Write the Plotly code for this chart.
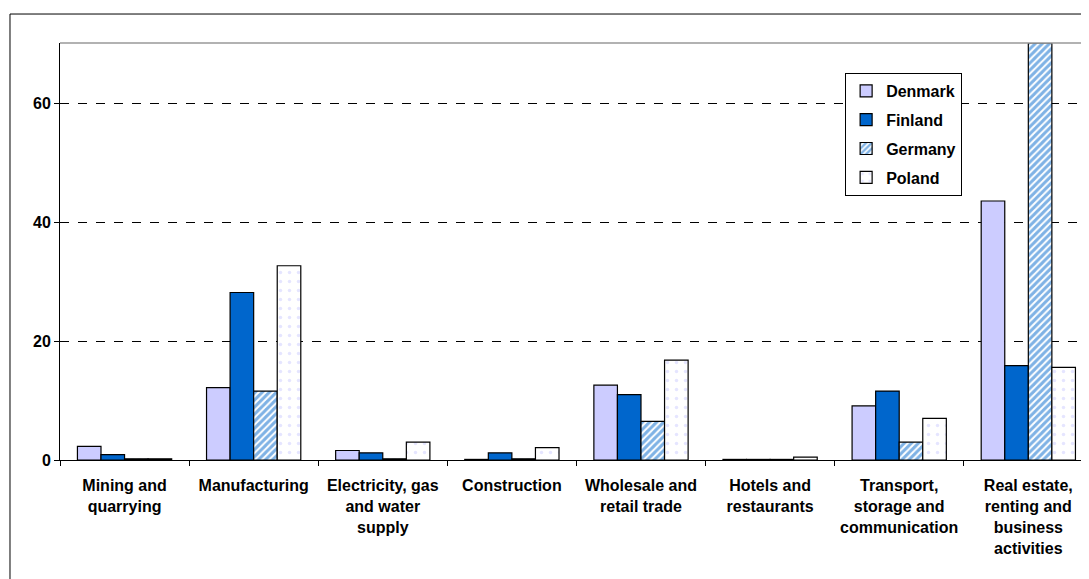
import plotly.graph_objects as go

sectors = [
    "Mining and<br>quarrying",
    "Manufacturing",
    "Electricity, gas<br>and water<br>supply",
    "Construction",
    "Wholesale and<br>retail trade",
    "Hotels and<br>restaurants",
    "Transport,<br>storage and<br>communication",
    "Real estate,<br>renting and<br>business<br>activities",
]

denmark = [2.3, 12.2, 1.6, 0.1, 12.6, 0.1, 9.1, 43.6]
finland = [0.9, 28.2, 1.2, 1.2, 11.0, 0.1, 11.6, 15.9]
germany = [0.2, 11.6, 0.2, 0.2, 6.5, 0.1, 3.0, 70.2]
poland = [0.2, 32.7, 3.0, 2.1, 16.8, 0.5, 7.0, 15.6]

FONT = "Arial, Liberation Sans, sans-serif"
line = dict(color="black", width=1.2)

fig = go.Figure()
fig.add_bar(name="Denmark", x=sectors, y=denmark, legendgroup="dk",
            marker=dict(color="#CCCCFF", line=line))
fig.add_bar(name="Finland", x=sectors, y=finland, legendgroup="fi",
            marker=dict(color="#0066CC", line=line))
fig.add_bar(name="Germany", x=sectors, y=germany, legendgroup="de",
            marker=dict(color="white", line=line,
                        pattern=dict(shape="/", fgcolor="#0066CC", bgcolor="white",
                                     size=5, solidity=0.6)))
fig.add_bar(name="Poland", x=sectors, y=poland, legendgroup="pl",
            marker=dict(color="white", line=line,
                        pattern=dict(shape=".", fgcolor="#CCCCFF", bgcolor="white",
                                     size=9, solidity=0.12)))

# page body has an 8px margin, so the figure is shrunk by that much
fig.update_layout(
    width=1081, height=571,
    margin=dict(l=52, r=0, t=35, b=119, autoexpand=False),
    paper_bgcolor="white",
    plot_bgcolor="white",
    barmode="group",
    bargap=0.27,
    bargroupgap=0,
    font=dict(family=FONT, size=16, color="black", weight="bold"),
    legend=dict(
        x=0.763, y=0.928, xanchor="left", yanchor="top",
        bgcolor="white", bordercolor="black", borderwidth=1,
        font=dict(family=FONT, size=16, color="black", weight="bold"),
        tracegroupgap=5,
        itemwidth=30,
    ),
    shapes=[
        dict(type="line", xref="paper", yref="paper", x0=-0.0486, x1=1.01,
             y0=1.0695, y1=1.0695, line=dict(color="black", width=1)),
        dict(type="line", xref="paper", yref="paper", x0=-0.0486, x1=-0.0486,
             y0=1.0695, y1=-0.3, line=dict(color="black", width=1)),
        dict(type="line", xref="paper", yref="paper", x0=0, x1=1,
             y0=1, y1=1, line=dict(color="#999999", width=1.5)),
    ],
)

fig.update_xaxes(
    type="category",
    range=[-0.5, 7.47],
    tickson="boundaries",
    tickangle=0,
    ticks="outside", ticklen=5, tickcolor="black",
    ticklabelstandoff=11,
    showline=True, linecolor="black", linewidth=1,
    showgrid=False,
    tickfont=dict(family=FONT, size=16, color="black", weight="bold"),
)
fig.update_yaxes(
    range=[0, 70.2],
    tickvals=[0, 20, 40, 60],
    ticks="outside", ticklen=5, tickcolor="black",
    showline=True, linecolor="black", linewidth=1,
    showgrid=True, gridcolor="black", gridwidth=1, griddash="dash",
    zeroline=False,
    tickfont=dict(family=FONT, size=16, color="black", weight="bold"),
)

fig.write_html("out.html")
